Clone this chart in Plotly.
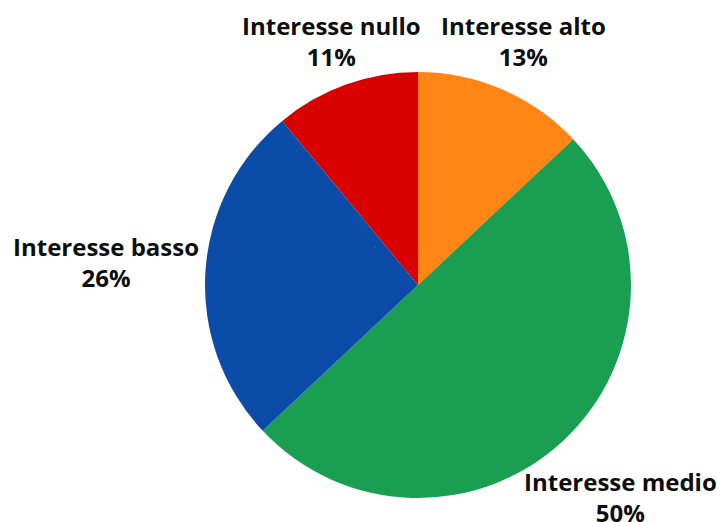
import plotly.graph_objects as go

# Interest levels and their shares (percent)
categories = ["Interesse alto", "Interesse medio", "Interesse basso", "Interesse nullo"]
values = [13, 50, 26, 11]
colors = ["#FF8515", "#1A9E52", "#0A4CA8", "#D90000"]

W, H = 723, 522
cx, cy, r = 418, 285, 213

fig = go.Figure(
    go.Pie(
        labels=categories,
        values=values,
        sort=False,
        direction="clockwise",
        rotation=0,
        marker=dict(colors=colors, line=dict(width=0)),
        textinfo="none",
        hoverinfo="label+percent",
        showlegend=False,
        domain=dict(
            x=[(cx - r) / W, (cx + r) / W],
            y=[(H - cy - r) / H, (H - cy + r) / H],
        ),
    )
)

# Outside labels: (x center px, y center px) of each two-line label
label_pos = {
    "Interesse alto": (523, 41),
    "Interesse medio": (620, 497),
    "Interesse basso": (106, 262),
    "Interesse nullo": (331, 41),
}
total = sum(values)
for cat, val in zip(categories, values):
    px, py = label_pos[cat]
    fig.add_annotation(
        x=px / W, y=1 - py / H, xref="paper", yref="paper",
        xanchor="center", yanchor="middle",
        text=f"{cat}<br>{round(val / total * 100)}%",
        showarrow=False,
        align="center",
        font=dict(family="Open Sans", size=24, color="#0d0d0d", weight="bold"),
    )

fig.update_layout(
    width=W, height=H,
    margin=dict(l=0, r=0, t=0, b=0),
    paper_bgcolor="white",
    plot_bgcolor="white",
)

fig.write_html("out.html")
